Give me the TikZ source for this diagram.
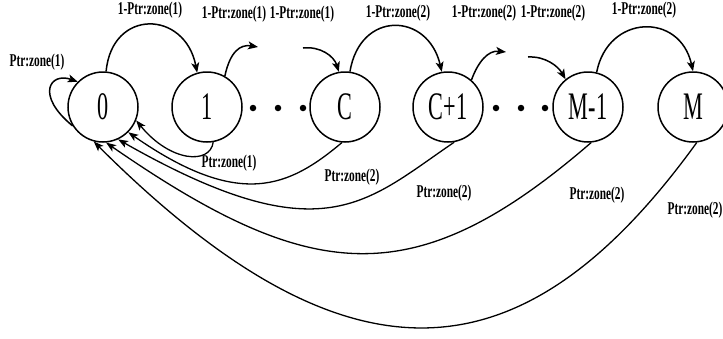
\documentclass[tikz,border=0pt]{standalone}
\usepackage{fontspec}
\setmainfont{Liberation Serif}
\newfontfamily\bigf[FakeStretch=0.57]{Liberation Serif}
\newfontfamily\lblf[FakeStretch=0.63]{Liberation Serif}
\usetikzlibrary{arrows.meta}
\begin{document}
\begin{tikzpicture}[x=1pt,y=-1pt,
  state/.style={draw,circle,line width=1.5pt,minimum size=70pt,inner sep=0pt,font=\bigf\fontsize{39}{39}\selectfont},
  lbl/.style={inner sep=0pt,font=\lblf\bfseries\fontsize{18}{18}\selectfont},
  arr/.style={line width=1.5pt,-{Stealth[length=10pt,width=8pt,inset=2.5pt]}},
  back/.style={line width=1.3pt,-{Stealth[length=10pt,width=7.5pt,inset=2.5pt]}},
  dotn/.style={circle,fill,inner sep=0pt,minimum size=6.5pt}]
\useasboundingbox (0,0) rectangle (723,338);
% states
\node[state] (n0)  at (103,107) {0};
\node[state] (n1)  at (207,107) {1};
\node[state] (nC)  at (345,107) {C};
\node[state] (nC1) at (448,107) {C+1};
\node[state] (nM1) at (588,107) {M-1};
\node[state] (nM)  at (693,107) {M};
% dots
\node[dotn] (d1) at (253,108) {};
\node[dotn] (d2) at (278,108) {};
\node[dotn] (d3) at (303,108) {};
\node[dotn] (d4) at (496,108) {};
\node[dotn] (d5) at (521,108) {};
\node[dotn] (d6) at (545,108) {};
% free ends of stub arrows
\coordinate (s1) at (258,47);
\coordinate (s2) at (303,48);
\coordinate (s3) at (506,52);
\coordinate (s4) at (528,57);
% labels
\node[lbl] (t1) at (150,10.5) {1-Ptr:zone(1)};
\node[lbl] (t2) at (234,14) {1-Ptr:zone(1)};
\node[lbl] (t3) at (302,14) {1-Ptr:zone(1)};
\node[lbl] (t4) at (398,13.5) {1-Ptr:zone(2)};
\node[lbl] (t5) at (484,13.5) {1-Ptr:zone(2)};
\node[lbl] (t6) at (553,13.5) {1-Ptr:zone(2)};
\node[lbl] (t7) at (644,10) {1-Ptr:zone(2)};
\node[lbl] (l0) at (37,62) {Ptr:zone(1)};
\node[lbl] (b1) at (229,163) {Ptr:zone(1)};
\node[lbl] (b2) at (352,177) {Ptr:zone(2)};
\node[lbl] (b3) at (444,193) {Ptr:zone(2)};
\node[lbl] (b4) at (597,195) {Ptr:zone(2)};
\node[lbl] (b5) at (695,210) {Ptr:zone(2)};
% top transitions
\draw[arr] (n0.85) .. controls (112,8) and (185,10) .. (n1.106);
\draw[arr] (n1.60) .. controls (230,52) and (240,44) .. (s1);
\draw[arr] (s2) .. controls (320,46) and (334,56) .. (nC.100);
\draw[arr] (nC.82) .. controls (360,10) and (428,12) .. (nC1.100);
\draw[arr] (nC1.49) .. controls (478,62) and (488,50) .. (s3);
\draw[arr] (s4) .. controls (545,56) and (558,66) .. (nM1.129);
\draw[arr] (nM1.76) .. controls (608,14) and (680,12) .. (nM.90);
% self loop
\draw[arr] (n0.-148) .. controls (35,95) and (50,72) .. (n0.135);
% back transitions
\draw[back] (n1.-80) .. controls (210,165) and (170,162) .. (n0.-22);
\draw[back] (nC.-95) .. controls (289,187) and (240,210) .. (n0.-45);
\draw[back] (nC1.-80) .. controls (366,202) and (323,256) .. (n0.-65);
\draw[back] (nM1.-85) .. controls (415,295) and (312,285) .. (n0.-85);
\draw[back] (nM.-84) .. controls (525,380) and (351,398) .. (n0.-105);
\end{tikzpicture}
\end{document}
